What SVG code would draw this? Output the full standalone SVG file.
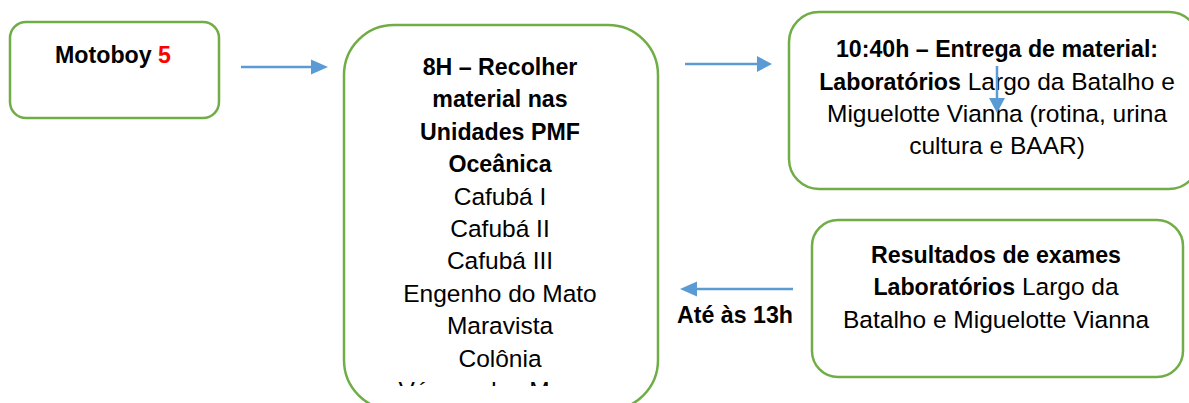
<svg xmlns="http://www.w3.org/2000/svg" width="1189" height="403" viewBox="0 0 1189 403">
<style>
.box{fill:#fff;stroke:#70AD47;stroke-width:2.5}
.t{font-family:"Liberation Sans",Arial,sans-serif;font-size:24.5px;fill:#000;text-anchor:middle}
.b{font-weight:bold;font-size:23.2px}
.conn{stroke:#5B9BD5;stroke-width:2.5;fill:none}
.head{fill:#5B9BD5}
</style>
<defs>
<clipPath id="clipMid"><rect x="340" y="0" width="330" height="386"/></clipPath>
</defs>
<rect width="1189" height="403" fill="#fff"/>
<g id="motoboy">
<rect class="box" x="10" y="22" width="209" height="96" rx="16"/>
<text class="t b" x="113" y="63">Motoboy <tspan fill="#FF0000">5</tspan></text>
</g>
<g id="recolher">
<rect class="box" x="344" y="25" width="314" height="385" rx="50"/>
<text class="t b" x="500" y="75">8H – Recolher</text>
<text class="t b" x="500" y="107.4">material nas</text>
<text class="t b" x="500" y="139.8">Unidades PMF</text>
<text class="t b" x="500" y="172.2">Oceânica</text>
<text class="t" x="500" y="204.6">Cafubá I</text>
<text class="t" x="500" y="237">Cafubá II</text>
<text class="t" x="500" y="269.4">Cafubá III</text>
<text class="t" x="500" y="301.8">Engenho do Mato</text>
<text class="t" x="500" y="334.2">Maravista</text>
<text class="t" x="500" y="366.6">Colônia</text>
<text class="t" x="500" y="399" clip-path="url(#clipMid)">Várzea das Moças</text>
</g>
<g id="entrega">
<rect class="box" x="789" y="12" width="410" height="177" rx="30"/>
<text class="t b" x="997" y="57">10:40h – Entrega de material:</text>
<text class="t" x="997" y="90"><tspan class="b">Laboratórios</tspan> Largo da Batalho e</text>
<text class="t" x="997" y="122">Miguelotte Vianna (rotina, urina</text>
<text class="t" x="997" y="154">cultura e BAAR)</text>
</g>
<g id="resultados">
<rect class="box" x="812" y="220" width="371" height="157" rx="26"/>
<text class="t b" x="996" y="263">Resultados de exames</text>
<text class="t" x="996" y="295"><tspan class="b">Laboratórios</tspan> Largo da</text>
<text class="t" x="996" y="328">Batalho e Miguelotte Vianna</text>
</g>
<g id="connectors">
<line class="conn" x1="241" y1="67" x2="312" y2="67"/>
<polygon class="head" points="311,59.5 328,67 311,74.5"/>
<line class="conn" x1="685" y1="64" x2="758" y2="64"/>
<polygon class="head" points="757,56 772,64 757,72"/>
<line class="conn" x1="997" y1="66" x2="997" y2="99"/>
<polygon class="head" points="989,98 1005,98 997,113"/>
<line class="conn" x1="793" y1="289" x2="696" y2="289"/>
<polygon class="head" points="697,281.5 680,289 697,296.5"/>
<text class="t b" x="735" y="323">Até às 13h</text>
</g>
</svg>
